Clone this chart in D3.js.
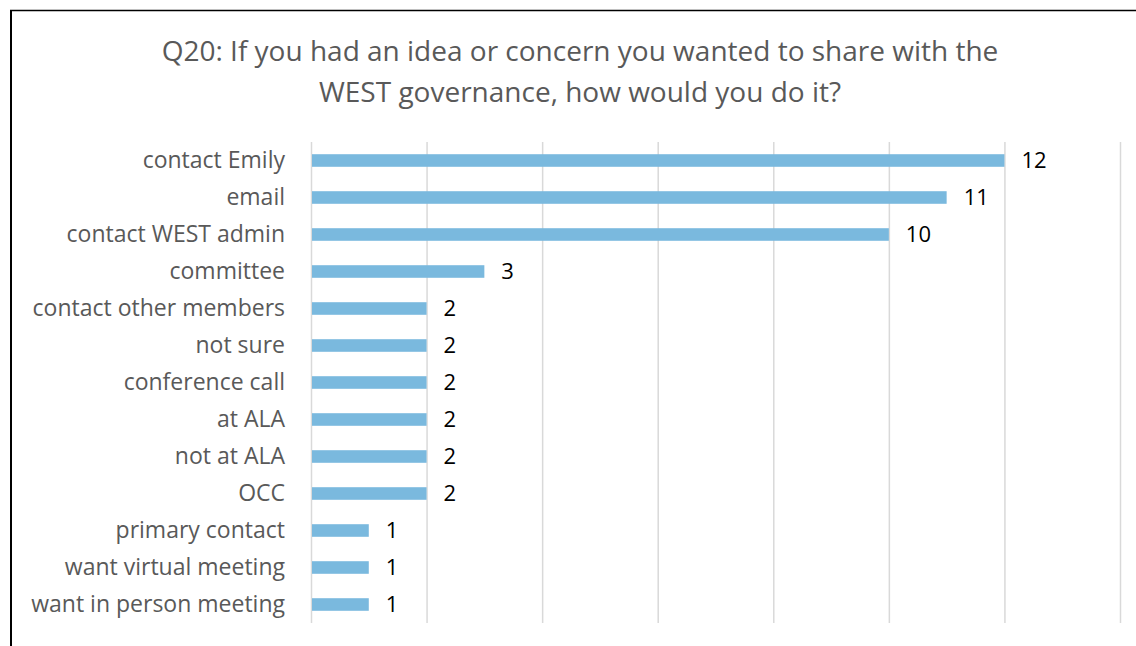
<!DOCTYPE html>
<html>
<head>
<meta charset="utf-8">
<script src="https://cdn.jsdelivr.net/npm/d3@7"></script>
<style>
  body { margin: 0; background: #fff; }
  svg { display: block; font-family: "Open Sans", sans-serif; }
</style>
</head>
<body>
<div id="chart"></div>
<script>
const categories = ["contact Emily", "email", "contact WEST admin", "committee", "contact other members",
  "not sure", "conference call", "at ALA", "not at ALA", "OCC", "primary contact",
  "want virtual meeting", "want in person meeting"];
const counts = [12, 11, 10, 3, 2, 2, 2, 2, 2, 2, 1, 1, 1];
const xTicks = [0, 2, 4, 6, 8, 10, 12, 14];
const titleLines = ["Q20: If you had an idea or concern you wanted to share with the",
  "WEST governance, how would you do it?"];

const width = 1136, height = 646;
const svg = d3.select("#chart").append("svg")
  .attr("width", width).attr("height", height);

// frame (left and top edges visible in the reference)
svg.append("line").attr("x1", 11).attr("x2", 11).attr("y1", 10).attr("y2", height)
  .attr("stroke", "#000").attr("stroke-width", 2);
svg.append("line").attr("x1", 10).attr("x2", width).attr("y1", 10.5).attr("y2", 10.5)
  .attr("stroke", "#000").attr("stroke-width", 1.5);

const x = d3.scaleLinear().domain([0, 14]).range([311, 1120]);
const y = d3.scaleBand().domain(categories).range([142, 623]).paddingInner(0.66).paddingOuter(0.33);

svg.append("g").selectAll("line").data(xTicks).join("line")
  .attr("x1", d => x(d) + 0.5).attr("x2", d => x(d) + 0.5)
  .attr("y1", 142).attr("y2", 623)
  .attr("stroke", "#d9d9d9").attr("stroke-width", 1.5);

svg.append("g").selectAll("rect").data(counts).join("rect")
  .attr("x", x(0) + 1)
  .attr("y", (d, i) => y(categories[i]))
  .attr("width", d => x(d) - x(0) - 1)
  .attr("height", y.bandwidth())
  .attr("fill", "#7ab9de");

svg.append("g").selectAll("text").data(counts).join("text")
  .attr("x", d => x(d) + 17)
  .attr("y", (d, i) => y(categories[i]) + y.bandwidth() / 2)
  .attr("dy", "0.36em")
  .attr("font-size", 22)
  .attr("fill", "#000")
  .text(d => d);

svg.append("g").selectAll("text").data(categories).join("text")
  .attr("x", 285)
  .attr("y", d => y(d) + y.bandwidth() / 2)
  .attr("dy", "0.33em")
  .attr("text-anchor", "end")
  .attr("font-size", 23)
  .attr("fill", "#595959")
  .text(d => d);

svg.append("g").selectAll("text").data(titleLines).join("text")
  .attr("x", 580)
  .attr("y", (d, i) => 61 + i * 41)
  .attr("text-anchor", "middle")
  .attr("font-size", 28)
  .attr("fill", "#595959")
  .text(d => d);
</script>
</body>
</html>
